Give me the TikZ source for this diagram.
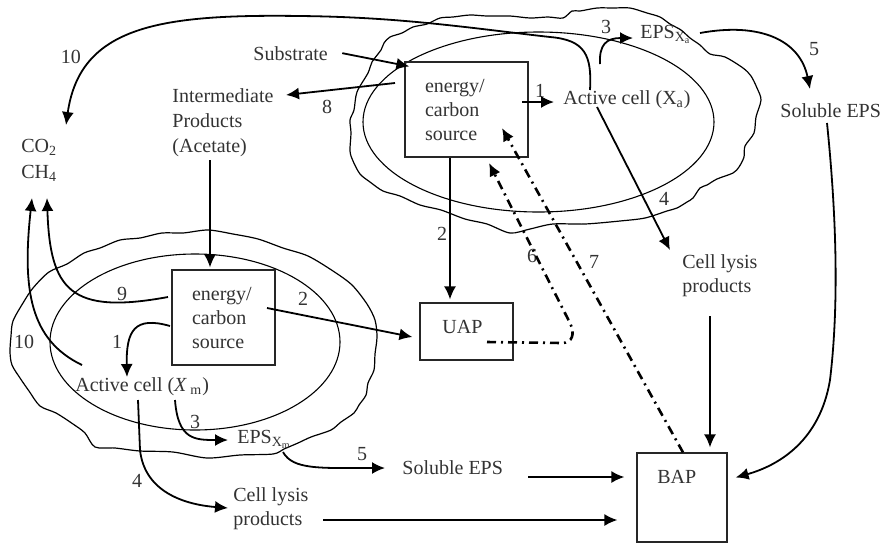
\documentclass[tikz,border=0pt]{standalone}
\usepackage{fontspec}
\setmainfont{Liberation Serif}
\usetikzlibrary{arrows.meta,calc}

\begin{document}
\begin{tikzpicture}[x=0.5pt,y=-0.5pt,
  every node/.style={text=black!80, font=\fontsize{10}{12}\selectfont, inner sep=0pt},
  box/.style={draw=black!85, line width=0.6pt, align=left, inner xsep=10pt},
  arr/.style={draw, line width=0.9pt, -{Latex[length=6.5pt,width=6pt]}},
  dd/.style={draw, line width=1.3pt, dash pattern=on 4.5pt off 2.5pt on 1pt off 2.5pt,
             -{Latex[length=6.5pt,width=6pt]}},
  rim/.style={line width=0.6pt},
  wall/.style={line width=0.55pt},
  num/.style={anchor=base}]

\useasboundingbox (0,0) rectangle (884,543);

% ---------- upper biofilm region (ragged outline and cell wall) ----------
\draw[rim] plot[smooth cycle, tension=0.5] coordinates {
  (390,37) (402,33) (413,27) (427,24) (440,18) (453,17) (470,15) (487,16)
  (510,16) (530,18) (548,17) (563,18) (572,11) (580,11) (597,8) (613,8)
  (630,8) (647,13) (660,17) (670,24) (681,30) (690,38) (700,45) (710,54)
  (725,57) (743,68) (751,76) (757,88) (761,100) (756,117) (754,133)
  (745,146) (744,157) (739,167) (733,173) (717,179) (707,185) (700,188)
  (693,198) (687,202) (677,208) (667,211) (645,218) (620,221) (585,224)
  (553,224) (530,229) (510,233) (487,224) (465,219) (441,210) (420,205)
  (400,196) (383,191) (370,182) (360,174) (353,161) (350,151) (351,133)
  (350,120) (354,110) (357,92) (368,73) (372,62) (381,50) (384,43)};
\draw[wall] (538.5,122) ellipse [x radius=87.75pt, y radius=45pt];

% ---------- lower biofilm region ----------
\draw[rim] plot[smooth cycle, tension=0.5] coordinates {
  (140,238) (162,233) (183,233) (208,230) (233,234) (258,239) (283,248)
  (308,256) (333,271) (352,285) (367,304) (375,320) (377,337) (375,354)
  (374,370) (368,383) (366,395) (359,405) (354,413) (341,422) (331,430)
  (311,437) (298,443) (284,449) (273,454) (240,455) (207,458) (173,452)
  (140,451) (115,448) (95,447) (85,433) (73,424) (56,413) (40,406)
  (29,391) (20,378) (12,365) (10,352) (11,336) (13,321) (23,303)
  (33,288) (49,272) (67,264) (84,253) (100,248) (120,240)};
\draw[wall] (195,342) ellipse [x radius=72.5pt, y radius=44pt];

% ---------- boxes ----------
\node[box, minimum width=61.5pt, minimum height=47.5pt, text width=41.5pt]
  (topbox) at (466.5,109.5) {energy/\\carbon\\source};
\node[box, minimum width=51.5pt, minimum height=47.5pt, text width=31.5pt]
  (lowbox) at (223.5,317.5) {energy/\\carbon\\source};
\node[box, align=center, inner xsep=0pt, minimum width=46.5pt, minimum height=28.5pt]
  (uap) at (466.5,331.5) {\raisebox{2.5pt}[6.6pt][0pt]{UAP\hspace{4pt}}};
\node[box, minimum width=45pt, minimum height=44.5pt] (bap) at (682,497.5) {};
\node[anchor=base west] (baptxt) at (657,483) {BAP};

% ---------- text labels ----------
\node[anchor=base west] (substrate) at (253,60) {Substrate};
\node[anchor=west, align=left, font=\fontsize{10}{12.5}\selectfont]
  (inter) at (172,123) {Intermediate\\Products\\(Acetate)};
\node[anchor=west, align=left, font=\fontsize{10}{13}\selectfont]
  (gas) at (21,160) {CO\textsubscript{2}\\CH\textsubscript{4}};
\node[anchor=base west] (activeA) at (563,104) {Active cell (X\textsubscript{a})};
\node[anchor=base west] (epsA) at (640,38) {EPS\textsubscript{X\textsubscript{a}}};
\node[anchor=base west] (solA) at (780,117) {Soluble EPS};
\node[anchor=west, align=left] (lysisA) at (682,276) {Cell lysis\\products};
\node[anchor=base west] (activeM) at (75,391) {Active cell (\textit{X}\,\textsubscript{m})};
\node[anchor=base west] (epsM) at (237,443) {EPS\textsubscript{X\textsubscript{m}}};
\node[anchor=base west] (solM) at (402,474) {Soluble EPS};
\node[anchor=west, align=left] (lysisM) at (233,509) {Cell lysis\\products};

% ---------- process numbers ----------
\node[num] (n10a) at (71,63) {10};
\node[num] (n8)   at (327,113) {8};
\node[num] (n1a)  at (540,97) {1};
\node[num] (n3a)  at (606,33) {3};
\node[num] (n5a)  at (814,55) {5};
\node[num] (n4a)  at (664,205) {4};
\node[num] (n2a)  at (442,240) {2};
\node[num] (n6)   at (532,262) {6};
\node[num] (n7)   at (594,268) {7};
\node[num] (n1b)  at (117,348) {1};
\node[num] (n9)   at (122,300) {9};
\node[num] (n2b)  at (303,305) {2};
\node[num] (n10b) at (24,348) {10};
\node[num] (n3b)  at (195,428) {3};
\node[num] (n4b)  at (137,487) {4};
\node[num] (n5b)  at (362,460) {5};

% ---------- connector end points ----------
\coordinate (p8s)   at (395,83);
\coordinate (p8e)   at (286,95);
\coordinate (p1s)   at (522,102);
\coordinate (p1e)   at (554,102);
\coordinate (p10s)  at (590,90);
\coordinate (p10e)  at (66,125);
\coordinate (p3s)   at (600,64);
\coordinate (p3e)   at (633,38);
\coordinate (p5s)   at (700,33);
\coordinate (p5e)   at (810,89);
\coordinate (p4s)   at (597,107);
\coordinate (p4e)   at (670,250);
\coordinate (p6s)   at (487,342);
\coordinate (p6e)   at (489,163);
\coordinate (p7e)   at (502,128);
\coordinate (plys)  at (710,316);
\coordinate (psol)  at (827,123);
\coordinate (pint)  at (210,160);
\coordinate (q2s)   at (267,308);
\coordinate (q1s)   at (170,326);
\coordinate (q1e)   at (127,377);
\coordinate (q9s)   at (168,297);
\coordinate (q9e)   at (47,198);
\coordinate (q10s)  at (82,365);
\coordinate (q10e)  at (32,198);
\coordinate (q3s)   at (175,400);
\coordinate (q3e)   at (228,440);
\coordinate (q4s)   at (138,400);
\coordinate (q4e)   at (228,508);
\coordinate (q5s)   at (283,452);
\coordinate (q5e)   at (385,468);
\coordinate (qsol)  at (528,477);
\coordinate (qlys)  at (323,520);

% ---------- upper pathways ----------
\draw[arr] ([xshift=7pt]substrate.east) -- ($(topbox.north west)+(5,5)$);
\draw[arr] (p8s) -- (p8e);
\draw[arr] (p1s) -- (p1e);
\draw[arr] (p10s) .. controls (592,55) and (585,40) .. (550,37)
                  .. controls (470,28) and (400,17) .. (300,16)
                  .. controls (160,14) and (80,26) .. (p10e);
\draw[arr] (p3s) .. controls (599,45) and (606,38) .. (p3e);
\draw[arr] (p5s) .. controls (760,22) and (800,40) .. (p5e);
\draw[arr] (p4s) -- (p4e);
\draw[arr] ([xshift=-8.25pt]topbox.south) -- ([xshift=-8.25pt,yshift=1.5pt]uap.north);
\draw[dd] (p6s) -- (562,343) .. controls (573,343) and (575,333) .. (570,323) -- (p6e);
\draw[dd] ([xshift=0.5pt]bap.north) -- (p7e);
\draw[arr] (plys) -- ([xshift=14pt,yshift=2.5pt]bap.north);
\draw[arr] (psol) .. controls (840,250) and (836,330) .. (830,380)
                  .. controls (820,440) and (780,465) .. ($(bap.east)+(8,-20)$);

% ---------- lower pathways ----------
\draw[arr] (pint) -- ([xshift=-6.75pt,yshift=1pt]lowbox.north);
\draw[arr] (q2s) -- ($(uap.west)+(-7,5.5)$);
\draw[arr] (q1s) .. controls (135,316) and (126,330) .. (q1e);
\draw[arr] (q9s) .. controls (70,315) and (50,290) .. (q9e);
\draw[arr] (q10s) .. controls (30,340) and (22,290) .. (q10e);
\draw[arr] (q3s) .. controls (178,440) and (195,440) .. (q3e);
\draw[arr] (q4s) -- (140,450) .. controls (145,495) and (190,505) .. (q4e);
\draw[arr] (q5s) .. controls (293,470) and (320,468) .. (q5e);
\draw[arr] (qsol) -- ($(bap.west)+(-12,-20.5)$);
\draw[arr] (qlys) -- ($(bap.west)+(-19,22.5)$);

\end{tikzpicture}
\end{document}
